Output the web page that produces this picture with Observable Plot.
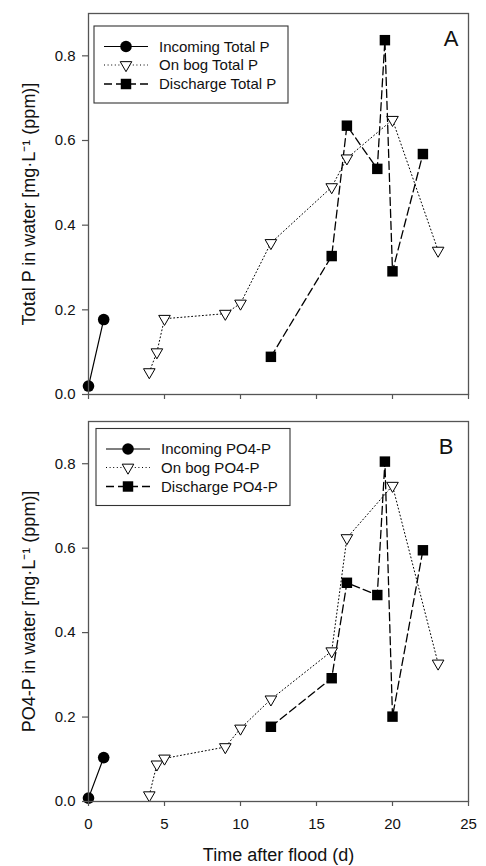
<!DOCTYPE html>
<html><head><meta charset="utf-8">
<script src="https://cdn.jsdelivr.net/npm/d3@7"></script>
<script src="https://cdn.jsdelivr.net/npm/@observablehq/plot@0.6"></script>
<style>
body{margin:0;background:#fff}
#wrap{position:relative;width:486px;height:866px;font-family:"Liberation Sans",Arial,sans-serif}
#wrap svg{display:block;overflow:visible}
#legend{position:absolute;left:0;top:0}
</style>
</head><body><div id="wrap"></div>
<script>
// ---- data ----
const incomingDays = [0, 1];
const incomingTotalP = [0.020, 0.177];
const incomingPO4 = [0.008, 0.104];
const bogDays = [4, 4.5, 5, 9, 10, 12, 16, 17, 20, 23];
const bogTotalP = [0.053, 0.100, 0.179, 0.191, 0.215, 0.358, 0.490, 0.558, 0.649, 0.340];
const bogPO4 = [0.015, 0.088, 0.102, 0.129, 0.173, 0.242, 0.356, 0.624, 0.748, 0.327];
const dischargeDays = [12, 16, 17, 19, 19.5, 20, 22];
const dischargeTotalP = [0.089, 0.327, 0.635, 0.533, 0.837, 0.291, 0.568];
const dischargePO4 = [0.177, 0.292, 0.518, 0.489, 0.805, 0.201, 0.595];
const xTicks = [0, 5, 10, 15, 20, 25];
const yTicks = [0, 0.2, 0.4, 0.6, 0.8];
const seriesNamesA = ["Incoming Total P", "On bog Total P", "Discharge Total P"];
const seriesNamesB = ["Incoming PO4-P", "On bog PO4-P", "Discharge PO4-P"];
const yLabelA = "Total P in water [mg·L⁻¹ (ppm)]";
const yLabelB = "PO4-P in water [mg·L⁻¹ (ppm)]";
const xLabel = "Time after flood (d)";

const zip = (xs, ys) => xs.map((d, i) => ({d, v: ys[i]}));

const downTriangle = {
  draw(ctx, size) {
    const y = -Math.sqrt(size / (Math.sqrt(3) * 3));
    ctx.moveTo(0, -y * 2);
    ctx.lineTo(-Math.sqrt(3) * y, y);
    ctx.lineTo(Math.sqrt(3) * y, y);
    ctx.closePath();
  }
};

const FONT = "Liberation Sans, Arial, sans-serif";
const AX = "#555";

function panel({inc, bog, dis, yLabel, letter, letterDx, height, marginTop, marginBottom, showX}) {
  const marks = [
    Plot.line(bog, {x: "d", y: "v", stroke: "black", strokeWidth: 1, strokeDasharray: "1,2.6"}),
    Plot.line(dis, {x: "d", y: "v", stroke: "black", strokeWidth: 1.3, strokeDasharray: "8,4"}),
    Plot.line(inc, {x: "d", y: "v", stroke: "black", strokeWidth: 1.2}),
    Plot.dot(bog, {x: "d", y: "v", symbol: downTriangle, r: 4.3, fill: "white", stroke: "black", strokeWidth: 1}),
    Plot.dot(dis, {x: "d", y: "v", symbol: "square", r: 5.9, fill: "black", stroke: "none"}),
    Plot.dot(inc, {x: "d", y: "v", symbol: "circle", r: 5.8, fill: "black", stroke: "none"}),
    Plot.frame({stroke: AX, strokeWidth: 1.3}),
    Plot.axisY(yTicks, {tickFormat: d3.format(".1f"), tickSize: 6, tickPadding: 7, fontSize: 15, stroke: AX, strokeWidth: 1.2, fill: "#111", label: null}),
    Plot.axisX(xTicks, {tickSize: 5, tickPadding: 12, fontSize: 15, stroke: AX, strokeWidth: 1.2, fill: "#111", label: null,
      tickFormat: showX ? (d => String(d)) : (() => "")}),
    Plot.text([yLabel], {frameAnchor: "left", text: d => d, rotate: -90, dx: -59, textAnchor: "middle", lineAnchor: "middle", fontSize: 18, fill: "#111"}),
    Plot.text([letter], {frameAnchor: "top-right", text: d => d, dx: letterDx, dy: 17, lineAnchor: "top", textAnchor: "end", fontSize: 22, fill: "#111"})
  ];
  if (showX) marks.push(Plot.text([xLabel], {frameAnchor: "bottom", text: d => d, dy: 54, textAnchor: "middle", lineAnchor: "middle", fontSize: 18, fill: "#111"}));
  return Plot.plot({
    width: 486, height, marginLeft: 88, marginRight: 18, marginTop, marginBottom,
    style: {fontFamily: FONT, background: "transparent", overflow: "visible"},
    x: {domain: [0, 25]},
    y: {domain: [0, 0.9]},
    marks
  });
}

const wrap = document.getElementById("wrap");
wrap.appendChild(panel({
  inc: zip(incomingDays, incomingTotalP), bog: zip(bogDays, bogTotalP), dis: zip(dischargeDays, dischargeTotalP),
  yLabel: yLabelA, letter: "A", letterDx: -10, height: 400, marginTop: 13, marginBottom: 6, showX: false
}));
wrap.appendChild(panel({
  inc: zip(incomingDays, incomingPO4), bog: zip(bogDays, bogPO4), dis: zip(dischargeDays, dischargePO4),
  yLabel: yLabelB, letter: "B", letterDx: -15, height: 466, marginTop: 21, marginBottom: 65, showX: true
}));

// ---- legends (overlay) ----
const svg = d3.select(wrap).append("svg").attr("id", "legend").attr("width", 486).attr("height", 866)
  .style("font-family", FONT);
function legend(x, y, names) {
  const g = svg.append("g").attr("transform", `translate(${x},${y})`);
  g.append("rect").attr("width", 194).attr("height", 77).attr("fill", "white").attr("stroke", "#333").attr("stroke-width", 1.1);
  const rows = [20.5, 39, 58];
  const dashes = [null, "1,2.6", "8,4"];
  rows.forEach((ry, i) => {
    const line = g.append("line").attr("x1", 10).attr("x2", 54).attr("y1", ry).attr("y2", ry)
      .attr("stroke", "black").attr("stroke-width", i === 0 ? 1.2 : i === 1 ? 1 : 1.3);
    if (dashes[i]) line.attr("stroke-dasharray", dashes[i]);
    if (i === 0) g.append("circle").attr("cx", 32).attr("cy", ry).attr("r", 5.8).attr("fill", "black");
    if (i === 1) g.append("path").attr("transform", `translate(32,${ry})`)
      .attr("d", d3.symbol(downTriangle, Math.PI * 4.3 * 4.3)()).attr("fill", "white").attr("stroke", "black");
    if (i === 2) g.append("path").attr("transform", `translate(32,${ry})`)
      .attr("d", d3.symbol(d3.symbolSquare, Math.PI * 5.9 * 5.9)()).attr("fill", "black");
    g.append("text").attr("x", 65).attr("y", ry).attr("dy", "0.35em").attr("font-size", 15).attr("fill", "#111").text(names[i]);
  });
}
legend(94, 26, seriesNamesA);
legend(96, 428.5, seriesNamesB);
</script>
</body></html>
